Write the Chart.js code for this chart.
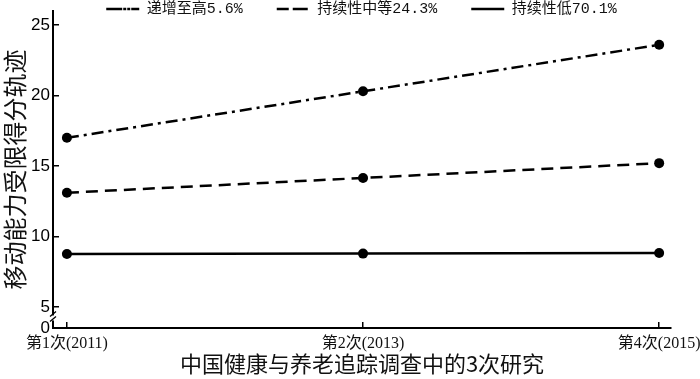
<!DOCTYPE html>
<html>
<head>
<meta charset="utf-8">
<script src="https://cdn.jsdelivr.net/npm/chart.js@4"></script>
<style>
html,body{margin:0;padding:0;background:#fff;}
#wrap{width:700px;height:379px;position:relative;}
</style>
</head>
<body>
<div id="wrap"><canvas id="c" width="700" height="379"></canvas></div>
<script>
const categories = ['第1次(2011)', '第2次(2013)', '第4次(2015)'];
const seriesNames = ['递增至高5.6%', '持续性中等24.3%', '持续性低70.1%'];
const increasing = [17.0, 20.3, 23.6];
const moderate = [13.1, 14.15, 15.2];
const low = [8.75, 8.78, 8.82];
const yBreakValue = 3.5;           // where the broken axis shows "0"
const yTickValues = [yBreakValue, 5, 10, 15, 20, 25];
const yTickLabels = ['0', '5', '10', '15', '20', '25'];
const xTitle = '中国健康与养老追踪调查中的3次研究';
const yTitle = '移动能力受限得分轨迹';

const toPts = arr => arr.map((v, i) => ({x: i, y: v}));

const LEGEND_FONT = 15;
const LEGEND_PAD = 34;

const layoutTweak = {
  id: 'layoutTweak',
  afterInit(chart) {
    const lg = chart.legend;
    if (lg) {
      const orig = lg.fit.bind(lg);
      lg.fit = function() { orig(); this.height = 0; };
    }
  },
  afterLayout(chart) {
    const lg = chart.legend;
    if (lg) {
      const shift = 26;
      lg.left += shift; lg.right += shift;
      lg.top = 9 - LEGEND_PAD - LEGEND_FONT / 2;
      lg.bottom = lg.top + 60;
    }
  },
  afterDraw(chart) {
    const y = chart.scales.y;
    const ctx = chart.ctx;
    const x = y.right;
    const y5 = y.getPixelForValue(5);
    const yb = y.getPixelForValue(yBreakValue);
    const ym = (y5 + yb) / 2;
    ctx.save();
    ctx.fillStyle = '#fff';
    ctx.fillRect(x - 2, ym - 2, 4, 5);
    ctx.strokeStyle = '#000';
    ctx.lineWidth = 1.3;
    ctx.beginPath();
    ctx.moveTo(x - 3, ym - 1); ctx.lineTo(x + 3, ym - 6);
    ctx.moveTo(x - 3, ym + 4); ctx.lineTo(x + 3, ym - 1);
    ctx.stroke();
    ctx.restore();
  }
};

const lineStyle = {
  borderColor: '#000',
  backgroundColor: '#000',
  borderWidth: 2.5,
  pointRadius: 5,
  pointHoverRadius: 5,
  pointBackgroundColor: '#000',
  pointBorderColor: '#000',
  pointBorderWidth: 0,
  tension: 0,
  fill: false
};

new Chart(document.getElementById('c'), {
  type: 'line',
  data: {
    datasets: [
      Object.assign({label: seriesNames[0], data: toPts(increasing), borderDash: [12, 5, 3, 5]}, lineStyle),
      Object.assign({label: seriesNames[1], data: toPts(moderate), borderDash: [12, 7]}, lineStyle),
      Object.assign({label: seriesNames[2], data: toPts(low), borderDash: []}, lineStyle)
    ]
  },
  options: {
    responsive: false,
    animation: false,
    devicePixelRatio: 1,
    layout: {padding: {top: 11, right: 29, bottom: 0, left: 0}},
    plugins: {
      tooltip: {enabled: false},
      legend: {
        display: true,
        position: 'top',
        align: 'center',
        labels: {
          boxWidth: 33,
          boxHeight: 0,
          padding: LEGEND_PAD,
          color: '#111',
          font: {family: "'Liberation Mono','Noto Sans CJK SC'", size: LEGEND_FONT}
        }
      }
    },
    scales: {
      x: {
        type: 'linear',
        min: -0.047,
        max: 2.04,
        afterBuildTicks: s => { s.ticks = categories.map((c, i) => ({value: i})); },
        afterFit: s => { s.height = 51; s.paddingLeft = 0; s.paddingRight = 0; },
        ticks: {
          callback: (v, i) => categories[i],
          color: '#111',
          font: {family: "'Liberation Serif','Noto Sans CJK SC'", size: 16},
          padding: 12,
          maxRotation: 0,
          autoSkip: false
        },
        grid: {drawOnChartArea: false, drawTicks: true, tickLength: -6, color: '#000', lineWidth: 1.5},
        border: {color: '#000', width: 2},
        title: {
          display: true,
          text: xTitle,
          color: '#111',
          font: {family: "'Noto Sans CJK SC'", size: 22},
          padding: {top: 0, bottom: 2}
        }
      },
      y: {
        type: 'linear',
        min: yBreakValue,
        max: 26,
        afterBuildTicks: s => { s.ticks = yTickValues.map(v => ({value: v})); },
        afterFit: s => { s.width = 53; s.paddingTop = 0; s.paddingBottom = 0; },
        ticks: {
          callback: (v, i) => yTickLabels[i],
          color: '#000',
          font: {family: "'Liberation Sans'", size: 17},
          padding: 9,
          autoSkip: false
        },
        grid: {drawOnChartArea: false, drawTicks: true, tickLength: -6, color: '#000', lineWidth: 1.5},
        border: {color: '#000', width: 2},
        title: {
          display: true,
          text: yTitle,
          color: '#111',
          font: {family: "'Noto Sans CJK SC'", size: 24},
          padding: {top: 0, bottom: 0}
        }
      }
    }
  },
  plugins: [layoutTweak]
});
</script>
</body>
</html>
